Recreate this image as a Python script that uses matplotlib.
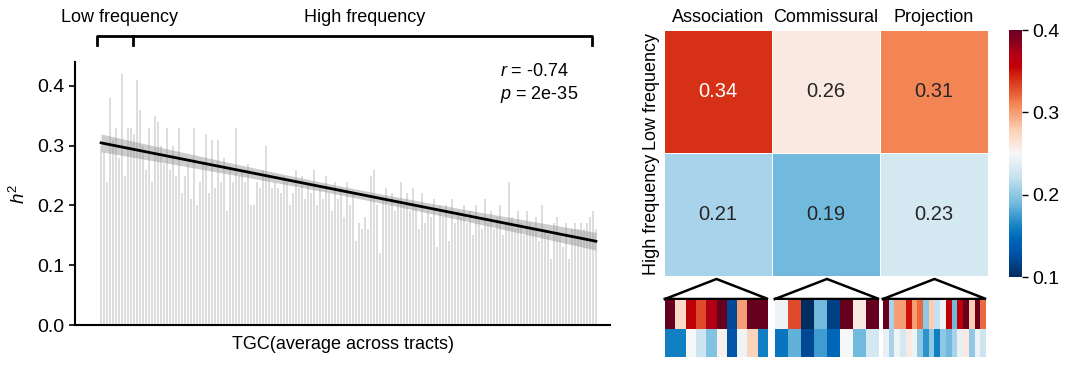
import numpy as np
import matplotlib
matplotlib.use("Agg")
import matplotlib.pyplot as plt
from matplotlib.colors import ListedColormap, rgb_to_hsv, hsv_to_rgb

plt.rcParams['font.family'] = ['Liberation Sans', 'DejaVu Sans']
plt.rcParams['mathtext.fontset'] = 'custom'
plt.rcParams['mathtext.rm'] = 'Liberation Sans'
plt.rcParams['mathtext.it'] = 'Liberation Sans:italic'

# h2 per component, sorted by TGC
h2 = [0.30, 0.29, 0.24, 0.38, 0.31, 0.33, 0.28, 0.42, 0.25, 0.33,
      0.33, 0.32, 0.41, 0.36, 0.30, 0.26, 0.33, 0.24, 0.35, 0.34,
      0.30, 0.27, 0.33, 0.26, 0.30, 0.25, 0.33, 0.22, 0.25, 0.27,
      0.21, 0.33, 0.20, 0.24, 0.27, 0.32, 0.22, 0.31, 0.23, 0.31,
      0.24, 0.28, 0.19, 0.26, 0.24, 0.33, 0.25, 0.26, 0.24, 0.27,
      0.20, 0.20, 0.24, 0.23, 0.26, 0.30, 0.25, 0.23, 0.24, 0.23,
      0.22, 0.25, 0.24, 0.20, 0.22, 0.26, 0.23, 0.25, 0.21, 0.24,
      0.22, 0.26, 0.20, 0.23, 0.21, 0.25, 0.22, 0.19, 0.24, 0.21,
      0.23, 0.18, 0.24, 0.20, 0.22, 0.14, 0.17, 0.16, 0.18, 0.16,
      0.25, 0.26, 0.20, 0.12, 0.21, 0.23, 0.20, 0.22, 0.19, 0.21,
      0.24, 0.20, 0.22, 0.19, 0.23, 0.20, 0.16, 0.22, 0.17, 0.19,
      0.18, 0.21, 0.13, 0.20, 0.18, 0.20, 0.14, 0.21, 0.17, 0.19,
      0.18, 0.20, 0.17, 0.19, 0.15, 0.20, 0.18, 0.16, 0.21, 0.17,
      0.19, 0.16, 0.18, 0.20, 0.15, 0.17, 0.24, 0.18, 0.16, 0.19,
      0.17, 0.15, 0.19, 0.17, 0.16, 0.18, 0.14, 0.20, 0.16, 0.15,
      0.11, 0.17, 0.18, 0.15, 0.13, 0.17, 0.11, 0.16, 0.17, 0.16,
      0.17, 0.16, 0.17, 0.18, 0.19, 0.16]
n_low = 11
r_text = '$r$ = -0.74'
p_text = '$p$ = 2e-35'

# heatmap of mean h2
tract_types = ['Association', 'Commissural', 'Projection']
freq_labels = ['Low frequency', 'High frequency']
mean_h2 = [[0.34, 0.26, 0.31],
           [0.21, 0.19, 0.23]]

# per-tract h2 (low row, high row) for each tract type
assoc_low = [0.40, 0.27, 0.36, 0.33, 0.37, 0.40, 0.12, 0.30, 0.40, 0.40]
assoc_high = [0.16, 0.16, 0.25, 0.225, 0.195, 0.255, 0.13, 0.245, 0.275, 0.16]
comm_low = [0.245, 0.33, 0.10, 0.19, 0.115, 0.40, 0.26, 0.40]
comm_high = [0.155, 0.185, 0.12, 0.175, 0.145, 0.25, 0.19, 0.23]
proj_low = [0.40, 0.21, 0.30, 0.30, 0.35, 0.30, 0.32, 0.20, 0.28, 0.22,
            0.245, 0.36, 0.19, 0.36, 0.40, 0.28, 0.40, 0.32]
proj_high = [0.24, 0.21, 0.245, 0.23, 0.26, 0.245, 0.20, 0.17, 0.20, 0.16,
             0.20, 0.19, 0.21, 0.24, 0.26, 0.20, 0.245, 0.225]

W, H = 1080, 371
fig = plt.figure(figsize=(W / 100, H / 100), dpi=100)


def px_axes(x0, y0, x1, y1):
    # pixel box (top-left origin) -> figure axes
    return fig.add_axes([x0 / W, 1 - y1 / H, (x1 - x0) / W, (y1 - y0) / H])


# ---- left: bar chart ----
ax = px_axes(75, 62, 610, 325)
h2 = np.array(h2)
x = np.arange(len(h2))
ax.bar(x, h2, width=0.72, color='#dddddd', edgecolor='none', zorder=1)

coef = np.polyfit(x, h2, 1)
fit = np.polyval(coef, x)
resid = h2 - fit
s = np.sqrt(np.sum(resid ** 2) / (len(x) - 2))
se = s * np.sqrt(1 / len(x) + (x - x.mean()) ** 2 / np.sum((x - x.mean()) ** 2))
ax.fill_between(x, fit - 1.97 * se * 1.4, fit + 1.97 * se * 1.4,
                color='#909090', alpha=0.45, lw=0, zorder=2)
ax.plot(x, fit, color='black', lw=2, zorder=3)

ax.set_xlim(-8.7, 169.7)
ax.set_ylim(0, 0.44)
ax.set_yticks([0.0, 0.1, 0.2, 0.3, 0.4])
ax.set_xticks([])
ax.tick_params(axis='y', labelsize=14, length=4, width=1.2)
for sp in ['top', 'right']:
    ax.spines[sp].set_visible(False)
for sp in ['left', 'bottom']:
    ax.spines[sp].set_linewidth(1.5)
ax.set_ylabel('$h^2$', fontsize=13.5, labelpad=6)
ax.set_xlabel('TGC(average across tracts)', fontsize=13, labelpad=8)
ax.text(0.794, 0.962, r_text, transform=ax.transAxes, fontsize=13, va='center')
ax.text(0.794, 0.875, p_text, transform=ax.transAxes, fontsize=13, va='center')

# bracket over the bars
tr = ax.get_xaxis_transform()
xl, xm, xr = -1.3, n_low - 0.3, len(h2) - 2.3
yb, yt = 1.065, 1.097
ax.plot([xl, xl, xr, xr], [yb, yt, yt, yb], color='black', lw=2,
        transform=tr, clip_on=False, solid_joinstyle='round')
ax.plot([xm, xm], [yt, yb], color='black', lw=2, transform=tr, clip_on=False)
ax.text(6.3, 1.17, 'Low frequency', transform=tr, ha='center', va='center', fontsize=13)
ax.text(88, 1.17, 'High frequency', transform=tr, ha='center', va='center', fontsize=13)

# ---- right: heatmap ----
# RdBu_r with a saturation boost, the reference colours are punchier
base = plt.get_cmap('RdBu_r')(np.linspace(0, 1, 256))[:, :3]
hsv = rgb_to_hsv(base)
hsv[:, 1] = np.clip(hsv[:, 1] * 1.4, 0, 1)
cmap = ListedColormap(hsv_to_rgb(hsv))
vmin, vmax = 0.1, 0.4

hax = px_axes(664, 30, 988, 276)
mesh = hax.pcolormesh(np.array(mean_h2), cmap=cmap, vmin=vmin, vmax=vmax,
                      edgecolor='white', linewidth=0.5)
hax.set_ylim(2, 0)
hax.set_xlim(0, 3)
for i in range(2):
    for j in range(3):
        v = mean_h2[i][j]
        hax.text(j + 0.5, i + 0.5, '%.2f' % v, ha='center', va='center', fontsize=14.5,
                 color='white' if v > 0.33 else '#262626')
hax.xaxis.tick_top()
hax.set_xticks(np.arange(3) + 0.5)
hax.set_xticklabels(tract_types, fontsize=13)
hax.set_yticks(np.arange(2) + 0.5)
hax.set_yticklabels(freq_labels, fontsize=13, rotation=90, va='center')
hax.tick_params(length=0, pad=3)
for sp in hax.spines.values():
    sp.set_visible(False)

cax = px_axes(1009, 30, 1022, 277)
cb = fig.colorbar(mesh, cax=cax, ticks=[0.1, 0.2, 0.3, 0.4])
cb.outline.set_visible(False)
cb.ax.tick_params(labelsize=14, length=4, width=1)

# ---- per-tract strips with triangles ----
groups = [(assoc_low, assoc_high, 665, 768),
          (comm_low, comm_high, 775, 879),
          (proj_low, proj_high, 883, 986)]
for low, high, gx0, gx1 in groups:
    tax = px_axes(gx0, 279, gx1, 299)
    tax.plot([0, 0.5, 1, 0], [0, 1, 0, 0], color='black', lw=1.8,
             clip_on=False, solid_joinstyle='miter')
    tax.set_xlim(0, 1)
    tax.set_ylim(0, 1)
    tax.axis('off')
    sax = px_axes(gx0, 300, gx1, 357)
    sax.pcolormesh(np.array([low, high]), cmap=cmap, vmin=vmin, vmax=vmax)
    sax.set_ylim(2, 0)
    sax.axis('off')

fig.savefig('out.png', dpi=100)
